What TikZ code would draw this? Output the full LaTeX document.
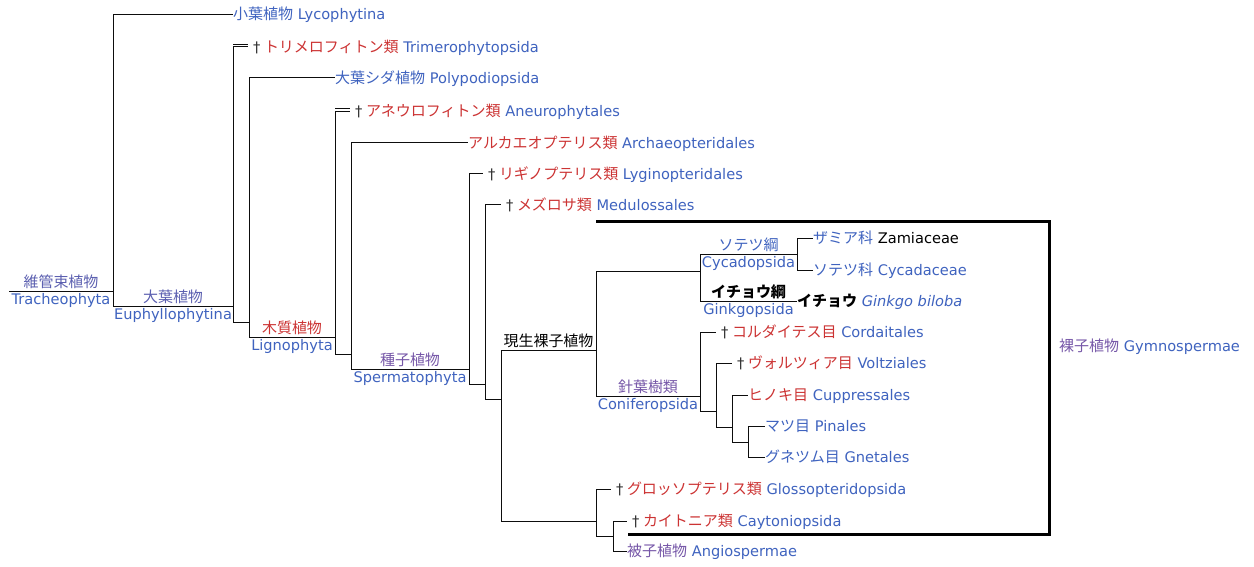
\documentclass[tikz,border=0pt]{standalone}
\usepackage{fontspec}
\setmainfont{DejaVu Sans}
\newfontfamily\jpfont{Noto Sans CJK JP}[Scale=1.027]
\definecolor{wblue}{HTML}{3F63BF}
\definecolor{wred}{HTML}{CC3333}
\definecolor{wviolet}{HTML}{7657A8}
\definecolor{windigo}{HTML}{5B5FB0}
\newcommand\jpblue[1]{{\color{wblue}\jpfont #1}}
\newcommand\jpred[1]{{\color{wred}\jpfont #1}}
\newcommand\jpviolet[1]{{\color{wviolet}\jpfont #1}}
\newcommand\jpindigo[1]{{\color{windigo}\jpfont #1}}
\newcommand\jpbold[1]{{\jpfont\bfseries #1}}
\newcommand\laname[1]{{\color{wblue}#1}}
\newcommand\extinct{\hspace{5pt}{\color{black!80}†}\hspace{3.5pt}}
\tikzset{
    leaf/.style =     {anchor=west,
                      inner sep=0pt,
                      text height=12pt,
                      text depth=1pt},
    cladetop/.style = {anchor=south,
                      inner sep=1.5pt},
    cladebot/.style = {anchor=north,
                      inner sep=1.5pt},
    branch/.style =   {draw=black!95,
                      line width=1pt},
    gymbox/.style =   {draw=black,
                      line width=3pt}}

\begin{document}
\begin{tikzpicture}[x=1pt, y=-1pt, font=\fontsize{14.6pt}{17pt}\selectfont]
    \useasboundingbox[fill=white] (0,0) rectangle (1254,567);

    % clade junctions
    \coordinate (root)  at (9,291);
    \coordinate (trach) at (113,291);
    \coordinate (euph)  at (233,306);
    \coordinate (eu2)   at (249,322);
    \coordinate (ligno) at (335,337);
    \coordinate (li2)   at (351,354);
    \coordinate (sperm) at (469,369);
    \coordinate (sp2)   at (485,384);
    \coordinate (sp3)   at (501,399);
    \coordinate (gymno) at (596,350);
    \coordinate (sp4)   at (596,521);
    \coordinate (sp5)   at (613,536);
    \coordinate (cygi)  at (700,271);
    \coordinate (cycad) at (797,254);
    \coordinate (conif) at (700,396);
    \coordinate (co2)   at (716,411);
    \coordinate (co3)   at (732,427);
    \coordinate (co4)   at (748,442);

    % leaves
    \node[leaf] (lyco) at (233,14.5) {\jpblue{小葉植物} \laname{Lycophytina}};
    \node[leaf] (trim) at (248,47)   {\extinct\jpred{トリメロフィトン類} \laname{Trimerophytopsida}};
    \node[leaf] (poly) at (335,78)   {\jpblue{大葉シダ植物} \laname{Polypodiopsida}};
    \node[leaf] (aneu) at (350,111.5) {\extinct\jpred{アネウロフィトン類} \laname{Aneurophytales}};
    \node[leaf] (arch) at (468,143)  {\jpred{アルカエオプテリス類} \laname{Archaeopteridales}};
    \node[leaf] (lygi) at (483,174)  {\extinct\jpred{リギノプテリス類} \laname{Lyginopteridales}};
    \node[leaf] (medu) at (501,205)  {\extinct\jpred{メズロサ類} \laname{Medulossales}};
    \node[leaf] (zami) at (813,238)  {\jpblue{ザミア科} Zamiaceae};
    \node[leaf] (cyca) at (813,270)  {\jpblue{ソテツ科} \laname{Cycadaceae}};
    \node[leaf] (gink) at (797,301)  {\jpbold{イチョウ} \laname{\itshape Ginkgo biloba}};
    \node[leaf] (cord) at (716,332)  {\extinct\jpred{コルダイテス目} \laname{Cordaitales}};
    \node[leaf] (volt) at (732,363)  {\extinct\jpred{ヴォルツィア目} \laname{Voltziales}};
    \node[leaf] (cupr) at (748,395)  {\jpred{ヒノキ目} \laname{Cuppressales}};
    \node[leaf] (pina) at (765,426)  {\jpblue{マツ目} \laname{Pinales}};
    \node[leaf] (gnet) at (765,457)  {\jpblue{グネツム目} \laname{Gnetales}};
    \node[leaf] (glos) at (611,489)  {\extinct\jpred{グロッソプテリス類} \laname{Glossopteridopsida}};
    \node[leaf] (cayt) at (627,521)  {\extinct\jpred{カイトニア類} \laname{Caytoniopsida}};
    \node[leaf] (angi) at (627,551)  {\jpviolet{被子植物} \laname{Angiospermae}};
    \node[leaf] (gymn) at (1059,346) {\jpviolet{裸子植物} \laname{Gymnospermae}};

    % branches
    \draw[branch] (root) -- (trach)
        node[midway, cladetop] (trach-jp) {\jpindigo{維管束植物}}
        node[midway, cladebot] (trach-la) {\laname{Tracheophyta}};
    \draw[branch] (trach) |- (lyco.west);
    \draw[branch] (trach) |- (euph)
        node[pos=.75, cladetop] (euph-jp) {\jpindigo{大葉植物}}
        node[pos=.75, cladebot] (euph-la) {\laname{Euphyllophytina}};
    \draw[branch] (euph) |- (trim.west);
    \draw[branch] ([yshift=2.5pt]euph |- trim.west) -- ([yshift=2.5pt]trim.west);
    \draw[branch] (euph) |- (eu2);
    \draw[branch] (eu2) |- (poly.west);
    \draw[branch] (eu2) |- (ligno)
        node[pos=.75, cladetop] (ligno-jp) {\jpred{木質植物}}
        node[pos=.75, cladebot] (ligno-la) {\laname{Lignophyta}};
    \draw[branch] (ligno) |- (aneu.west);
    \draw[branch] ([yshift=2.5pt]ligno |- aneu.west) -- ([yshift=2.5pt]aneu.west);
    \draw[branch] (ligno) |- (li2);
    \draw[branch] (li2) |- (arch.west);
    \draw[branch] (li2) |- (sperm)
        node[pos=.75, cladetop] (sperm-jp) {\jpviolet{種子植物}}
        node[pos=.75, cladebot] (sperm-la) {\laname{Spermatophyta}};
    \draw[branch] (sperm) |- (lygi.west);
    \draw[branch] (sperm) |- (sp2);
    \draw[branch] (sp2) |- (medu.west);
    \draw[branch] (sp2) |- (sp3);
    \draw[branch] (sp3) |- (gymno)
        node[pos=.75, cladetop] (gymno-jp) {{\jpfont 現生裸子植物}};
    \draw[branch] (sp3) |- (sp4);
    \draw[branch] (gymno) |- (cygi);
    \draw[branch] (gymno) |- (conif)
        node[pos=.75, cladetop] (conif-jp) {\jpviolet{針葉樹類}}
        node[pos=.75, cladebot] (conif-la) {\laname{Coniferopsida}};
    \draw[branch] (cygi) |- (cycad)
        node[pos=.75, cladetop] (cycad-jp) {\jpblue{ソテツ綱}}
        node[pos=.75, cladebot] (cycad-la) {\laname{Cycadopsida}};
    \draw[branch] (cygi) |- (gink.west)
        node[pos=.75, cladetop] (gink-jp) {\jpbold{イチョウ綱}}
        node[pos=.75, cladebot] (gink-la) {\laname{Ginkgopsida}};
    \draw[branch] (cycad) |- (zami.west);
    \draw[branch] (cycad) |- (cyca.west);
    \draw[branch] (conif) |- (cord.west);
    \draw[branch] (conif) |- (co2);
    \draw[branch] (co2) |- (volt.west);
    \draw[branch] (co2) |- (co3);
    \draw[branch] (co3) |- (cupr.west);
    \draw[branch] (co3) |- (co4);
    \draw[branch] (co4) |- (pina.west);
    \draw[branch] (co4) |- (gnet.west);
    \draw[branch] (sp4) |- (glos.west);
    \draw[branch] (sp4) |- (sp5);
    \draw[branch] (sp5) |- (cayt.west);
    \draw[branch] (sp5) |- (angi.west);

    % gymnosperm bracket
    \coordinate (gtop)    at (596,222);
    \coordinate (gcorner) at (1049,534);
    \coordinate (gbot)    at (628,534);
    \draw[gymbox] (gtop) -| (gcorner) -- (gbot);
\end{tikzpicture}
\end{document}
